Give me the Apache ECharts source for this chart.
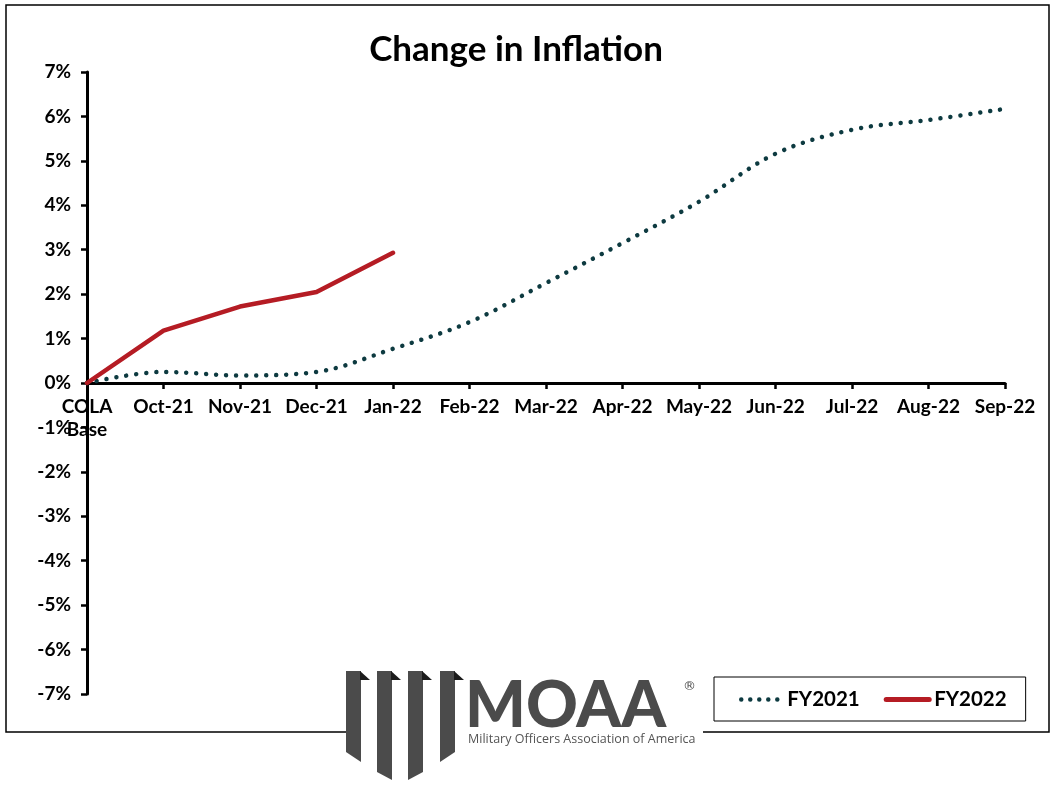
<!DOCTYPE html>
<html>
<head>
<meta charset="utf-8">
<script src="https://cdn.jsdelivr.net/npm/echarts@6/dist/echarts.min.js"></script>
<style>html,body{margin:0;padding:0;background:#fff}#c{width:1059px;height:786px}</style>
</head>
<body>
<div id="c"></div>
<script>
const categories = ['COLA\nBase','Oct-21','Nov-21','Dec-21','Jan-22','Feb-22','Mar-22','Apr-22','May-22','Jun-22','Jul-22','Aug-22','Sep-22'];
const fy2021 = [0, 0.25, 0.17, 0.25, 0.77, 1.37, 2.25, 3.15, 4.08, 5.16, 5.70, 5.92, 6.17];
const fy2022 = [0, 1.18, 1.72, 2.05, 2.93];
const yTicks = {min: -7, max: 7, step: 1};

const chart = echarts.init(document.getElementById('c'));
const F = 'Lato, "Open Sans", sans-serif';
const logoGrey = '#4b4b4b';
const teal = '#0d3a40', red = '#b51c24';
function bar(x, yl, yr, w) {
  return {type:'polygon', shape:{points:[[x,671],[x+w,671],[x+w,yr],[x,yl]]}, style:{fill:logoGrey}, z:11};
}
function flag(x, w) {
  return {type:'polygon', shape:{points:[[x+w-1,671],[x+w+9,680],[x+w-1,680]]}, style:{fill:'#1c1c1c'}, z:12};
}
chart.setOption({
  animation:false,
  backgroundColor:'#fff',
  title:{text:'Change in Inflation', left:511, textAlign:'center', top:27,
    textStyle:{fontFamily:F, fontSize:35, fontWeight:'bold', color:'#000'}},
  grid:{left:87, right:54, top:72, bottom:92, containLabel:false},
  legend:{left:714, top:677, padding:[12,19,11,23], itemGap:24, itemWidth:43, itemHeight:14,
    borderColor:'#000', borderWidth:1,
    itemStyle:{opacity:0},
    textStyle:{fontFamily:F, fontSize:20.5, fontWeight:'bold', color:'#000'},
    data:[
      {name:'FY2021', lineStyle:{color:teal, width:4.5, type:[0.01, 9], cap:'round', dashOffset:-2}},
      {name:'FY2022', lineStyle:{color:red, width:5, type:'solid', cap:'round'}}
    ]},
  xAxis:{type:'category', data:categories, boundaryGap:false,
    axisLine:{onZero:true, lineStyle:{color:'#000', width:3}},
    axisTick:{show:true, alignWithLabel:true, length:6, lineStyle:{color:'#000', width:2.5}},
    axisLabel:{interval:0, margin:-299, fontFamily:F, fontSize:19, fontWeight:'bold', color:'#000', lineHeight:23}},
  yAxis:{type:'value', min:yTicks.min, max:yTicks.max, interval:yTicks.step,
    splitLine:{show:false},
    axisLine:{show:true, lineStyle:{color:'#000', width:3}},
    axisTick:{show:true, length:6, lineStyle:{color:'#000', width:2.5}},
    axisLabel:{formatter:'{value}%', margin:16, fontFamily:F, fontSize:19, fontWeight:'bold', color:'#000'}},
  series:[
    {name:'FY2021', type:'line', data:fy2021, smooth:0.35, showSymbol:false, symbol:'none',
      itemStyle:{color:teal},
      lineStyle:{color:teal, width:4.5, type:[0.01, 10], cap:'round'}, z:2},
    {name:'FY2022', type:'line', data:fy2022, smooth:false, showSymbol:false, symbol:'none',
      itemStyle:{color:red},
      lineStyle:{color:red, width:4.5, cap:'round', join:'round'}, z:3}
  ],
  graphic:[
    {type:'rect', shape:{x:6, y:5, width:1043, height:727}, style:{fill:null, stroke:'#000', lineWidth:1.5}, z:0, silent:true},
    {type:'rect', shape:{x:347, y:662, width:356, height:124}, style:{fill:'#fff'}, z:10},
    bar(346, 752, 762, 15), flag(346, 15),
    bar(377, 772, 780, 15), flag(377, 15),
    bar(408, 780, 772, 15), flag(408, 15),
    bar(440, 762, 752, 15), flag(440, 15),
    {type:'text', left:465, top:674, z:12, style:{text:'MOAA', fontFamily:'Lato, sans-serif', fontSize:64, fontWeight:900, fill:logoGrey}},
    {type:'text', left:683, top:680, z:12, style:{text:'®', fontFamily:'"DejaVu Sans", sans-serif', fontSize:13, fill:logoGrey}},
    {type:'text', left:468, top:733, z:12, style:{text:'Military Officers Association of America', fontFamily:'"Open Sans", sans-serif', fontSize:12.5, fill:'#555'}}
  ]
});
</script>
</body>
</html>
